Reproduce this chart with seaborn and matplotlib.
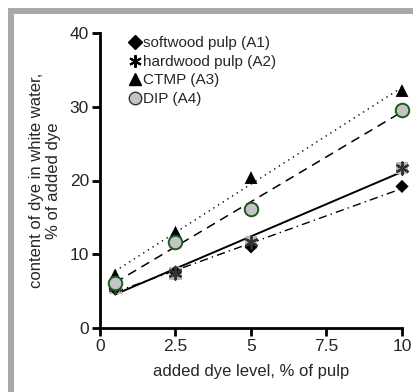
import numpy as np
import pandas as pd
import matplotlib
matplotlib.use("Agg")
import matplotlib.pyplot as plt
from matplotlib.patches import Rectangle
from matplotlib.lines import Line2D
import seaborn as sns

sns.set_style("white")
plt.rcParams['font.family'] = ['Liberation Sans', 'DejaVu Sans']

dye_level = [0.5, 2.5, 5, 10]
softwood = [5.3, 7.6, 11.0, 19.2]
hardwood = [5.5, 7.4, 11.6, 21.7]
ctmp = [7.2, 13.0, 20.4, 32.2]
dip = [6.1, 11.7, 16.2, 29.6]

x_ticks = [0, 2.5, 5, 7.5, 10]
x_ticklabels = ["0", "2.5", "5", "7.5", "10"]
y_ticks = [0, 10, 20, 30, 40]

fig = plt.figure(figsize=(4.14, 3.92), dpi=100)
W, H = 414, 392
# gray frame (left and top bands)
fig.patches.append(Rectangle((8.3 / W, 0), 5.7 / W, 1 - 8.3 / H, transform=fig.transFigure,
                             facecolor="#a9a9a9", edgecolor="none", zorder=0))
fig.patches.append(Rectangle((8.3 / W, 1 - 13.8 / H), 1 - 9.3 / W, 5.5 / H, transform=fig.transFigure,
                             facecolor="#a9a9a9", edgecolor="none", zorder=0))

ax = fig.add_axes([100 / W, 1 - 328 / H, 302 / W, 295 / H])

df = pd.DataFrame({"x": dye_level, "soft": softwood, "hard": hardwood, "ctmp": ctmp, "dip": dip})

# fit lines
sns.regplot(data=df, x="x", y="soft", ax=ax, ci=None, scatter=False,
            line_kws=dict(color="black", lw=1.0, ls=(0, (6, 3, 1, 3))))
sns.regplot(data=df, x="x", y="hard", ax=ax, ci=None, scatter=False,
            line_kws=dict(color="black", lw=1.4, ls="-"))
sns.regplot(data=df, x="x", y="ctmp", ax=ax, ci=None, scatter=False,
            line_kws=dict(color="black", lw=1.0, ls=(0, (1, 3))))
sns.regplot(data=df, x="x", y="dip", ax=ax, ci=None, scatter=False,
            line_kws=dict(color="black", lw=1.1, ls=(0, (6, 4))))

# markers
ax.scatter(dye_level, hardwood, marker="s", s=85, color="#b8b8b8", edgecolors="none", zorder=3, clip_on=False)
ax.scatter(dye_level, hardwood, marker=(6, 2, 0), s=75, color="#333333", linewidths=1.6, zorder=4, clip_on=False)
ax.scatter(dye_level, softwood, marker="D", s=45, color="black", edgecolors="none", zorder=3, clip_on=False)
ax.scatter(dye_level, ctmp, marker="^", s=85, color="black", edgecolors="none", zorder=3, clip_on=False)
ax.scatter(dye_level, dip, marker="o", s=95, facecolor="#c4c4c4", edgecolors="#1e5a1e", linewidths=1.4,
           zorder=5, clip_on=False)

# legend handles
handles = [
    Line2D([], [], marker="D", ls="none", color="black", markersize=7),
    Line2D([], [], marker=(6, 2, 0), ls="none", color="black", markersize=9, markeredgewidth=1.5),
    Line2D([], [], marker="^", ls="none", color="black", markersize=9),
    Line2D([], [], marker="o", ls="none", markerfacecolor="#c4c4c4", markeredgecolor="#333333", markersize=9),
]
labels = ["softwood pulp (A1)", "hardwood pulp (A2)", "CTMP (A3)", "DIP (A4)"]
ax.legend(handles, labels, loc="upper left", bbox_to_anchor=(0.06, 1.025), frameon=False,
          fontsize=11, handlelength=0.8, handletextpad=0.1, labelspacing=0.3, borderpad=0.2)

ax.set_xlim(0, 10)
ax.set_ylim(0, 40)
ax.set_xticks(x_ticks)
ax.set_xticklabels(x_ticklabels)
ax.set_yticks(y_ticks)
ax.set_xlabel("added dye level, % of pulp", fontsize=12, labelpad=7)
ax.set_ylabel("content of dye in white water,\n% of added dye", fontsize=12, labelpad=6)
for s in ["top", "right"]:
    ax.spines[s].set_visible(False)
for s in ["left", "bottom"]:
    ax.spines[s].set_linewidth(2)
    ax.spines[s].set_color("black")
ax.tick_params(axis="both", direction="out", length=6, width=2, color="black",
               labelsize=12.5, pad=2, bottom=True, left=True)
for sp in ax.spines.values():
    sp.set_capstyle("projecting")

fig.savefig("out.png", dpi=100)
